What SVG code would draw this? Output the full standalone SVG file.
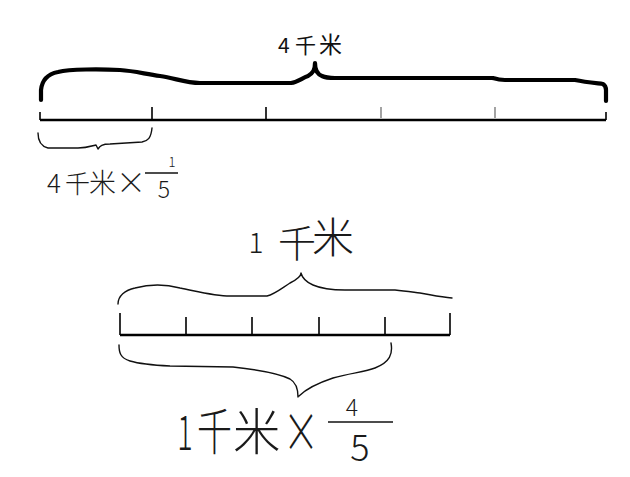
<svg xmlns="http://www.w3.org/2000/svg" width="630" height="477" viewBox="0 0 630 477">
<style>
.bg{fill:#fff}
.brace-thick{fill:none;stroke:#000;stroke-width:4.2;stroke-linecap:round;stroke-linejoin:round}
.brace{fill:none;stroke:#111;stroke-width:1.4;stroke-linecap:round;stroke-linejoin:round}
.axis{fill:none;stroke:#000;stroke-width:2.4}
.tick{stroke:#000;stroke-width:1.6}
.tick-l{stroke:#666;stroke-width:1.2}
.bar{stroke:#111;stroke-width:1.4}
.t{font-family:"Noto Sans CJK SC","Noto Sans",sans-serif;fill:#111}
.hand{font-family:"Noto Sans CJK SC","Noto Sans",sans-serif;fill:#1a1a1a;font-weight:300}
</style>
<rect class="bg" width="630" height="477"/>

<g id="top-label">
<text class="t" x="278" y="53" font-size="21">4</text>
<text class="t" x="295" y="53" font-size="21">千</text>
<text class="t" x="319" y="53" font-size="23">米</text>
</g>

<g id="top-brace">
<path class="brace-thick" d="M41,100 L41,90 C42,80 48,74 58,72 C70,69 100,69 120,70 C135,71 145,74 160,76 C175,78 185,83 200,83 L291,83 C298,82 302,78 308,76 C313,73 315,70 315,63 M315,63 C315,70 317,74 322,76 C326,78 330,78 335,78 L493,78 C496,79 498,80 505,80 L575,80 C585,82 595,83 603,84 C606,86 606,88 606,90 L606,101"/>
</g>

<g id="top-line">
<path class="axis" d="M40,120 L606,120"/>
<path class="tick" d="M40,112 L40,120 M606,112 L606,120 M152,107 L152,120 M266,107 L266,120"/>
<path class="tick-l" d="M381,107 L381,118 M495,107 L495,118"/>
</g>

<g id="small-brace">
<path class="brace" d="M38,133 C38,140 40,146 48,148 L78,148 C86,148 92,146 96,145 L98,149 M98,149 C100,146 102,144 110,144 L142,142 C148,141 151,138 152,128"/>
</g>

<g id="small-label">
<text class="hand" x="47" y="193" font-size="26">4</text>
<text class="hand" x="65" y="193" font-size="25">千</text>
<text class="hand" x="89" y="193" font-size="27">米</text>
<text class="hand" x="116" y="193" font-size="30">×</text>
<text class="hand" x="172" y="167" font-size="13" text-anchor="middle">1</text>
<line class="bar" x1="145" y1="173" x2="178" y2="173"/>
<text class="hand" x="164" y="198" font-size="23" text-anchor="middle">5</text>
</g>

<g id="mid-label">
<text class="hand" x="256" y="253" font-size="28" text-anchor="middle">1</text>
<text class="hand" x="278" y="257" font-size="38">千</text>
<text class="hand" x="312" y="253" font-size="42">米</text>
</g>

<g id="upper-brace">
<path class="brace" d="M118,304 C118,296 125,290 135,288 C150,284 165,284 180,288 C200,292 215,296 230,296 L267,296 C275,294 282,288 290,283 C296,280 301,276 301,273 C302,277 306,282 313,285 C322,289 330,290 345,290 L395,290 C405,291 412,292 420,293 C432,295 440,297 452,298"/>
</g>

<g id="bottom-line">
<path class="axis" d="M120,335 L450,335"/>
<path class="tick" d="M120,313 L120,335 M450,313 L450,335"/>
<path class="tick" d="M186,317 L186,335 M252,317 L252,335 M319,317 L319,335 M385,317 L385,335"/>
</g>

<g id="lower-brace">
<path class="brace" d="M119,345 C119,352 120,358 130,361 C140,364 150,365 170,366 L233,367 C260,370 280,374 290,379 C297,383 298,390 298,397 M299,396 C305,390 315,384 333,378 C350,373 365,372 375,368 C390,362 393,354 391,343"/>
</g>

<g id="bottom-label">
<text class="hand" transform="translate(185,450) scale(0.6,1)" font-size="48" text-anchor="middle">1</text>
<text class="hand" transform="translate(197,450) scale(0.7,1)" font-size="50">千</text>
<text class="hand" transform="translate(233,450) scale(0.95,1)" font-size="50">米</text>
<text class="hand" transform="translate(283,452) scale(0.72,1.1)" font-size="50">×</text>
<text class="hand" x="352" y="416" font-size="23" text-anchor="middle">4</text>
<line class="bar" x1="328" y1="422" x2="393" y2="422"/>
<text class="hand" x="360" y="461" font-size="36" text-anchor="middle">5</text>
</g>
</svg>
